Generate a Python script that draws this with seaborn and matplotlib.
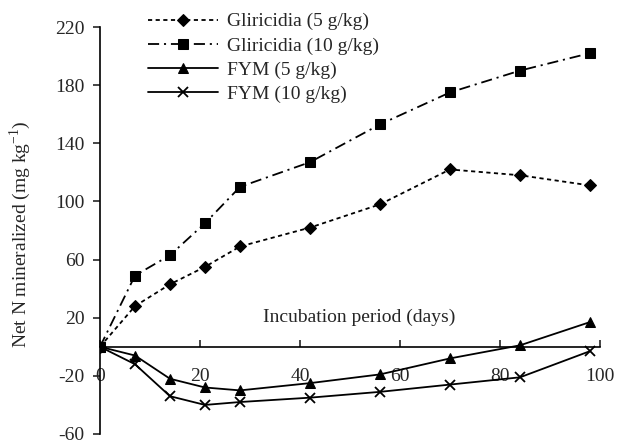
import matplotlib
matplotlib.use('Agg')
import matplotlib.pyplot as plt
import seaborn as sns

# incubation days and net N mineralized (mg/kg)
days = [0, 7, 14, 21, 28, 42, 56, 70, 84, 98]
gliricidia_5 = [0, 28, 43, 55, 69, 82, 98, 122, 118, 111]
gliricidia_10 = [0, 49, 63, 85, 110, 127, 153, 175, 190, 202]
fym_5 = [0, -6, -22, -28, -30, -25, -19, -8, 1, 17]
fym_10 = [0, -12, -34, -40, -38, -35, -31, -26, -21, -3]

series_labels = ['Gliricidia (5 g/kg)', 'Gliricidia (10 g/kg)', 'FYM (5 g/kg)', 'FYM (10 g/kg)']
x_ticks = [0, 20, 40, 60, 80, 100]
y_ticks = [-60, -20, 20, 60, 100, 140, 180, 220]

sns.set_style('ticks')
plt.rcParams['font.family'] = ['Liberation Serif', 'DejaVu Serif']
plt.rcParams['axes.unicode_minus'] = False
plt.rcParams['lines.scale_dashes'] = False

fig = plt.figure(figsize=(6.17, 4.41), dpi=100)
ax = fig.add_axes([100 / 617, 7 / 441, 500 / 617, 407 / 441])

styles = [
    dict(marker='D', markersize=6.5, linestyle=(0, (3, 2.5))),
    dict(marker='s', markersize=7, linestyle=(0, (8, 3.5, 1.5, 3.5))),
    dict(marker='^', markersize=7.5, linestyle='-'),
    dict(marker='x', markersize=7.5, linestyle='-', markeredgewidth=1.3),
]
for values, label, st in zip([gliricidia_5, gliricidia_10, fym_5, fym_10], series_labels, styles):
    sns.lineplot(x=days, y=values, ax=ax, color='black', label=label, linewidth=1.3,
                 markeredgecolor='black', legend=False, **st)

ax.set_xlim(0, 100)
ax.set_ylim(-60, 220)
ax.set_xticks(x_ticks)
ax.set_yticks(y_ticks)
ax.spines['top'].set_visible(False)
ax.spines['right'].set_visible(False)
ax.spines['bottom'].set_position(('data', 0))
for sp in ['left', 'bottom']:
    ax.spines[sp].set_linewidth(1.2)
    ax.spines[sp].set_color('black')
ax.tick_params(axis='x', direction='in', length=5, width=1.2, pad=15, labelsize=14)
ax.tick_params(axis='y', direction='out', length=5, width=1.2, pad=6, labelsize=14)

ax.set_xlabel('Incubation period (days)', fontsize=14)
ax.xaxis.set_label_coords(0.518, 80 / 280)
ax.xaxis.label.set_verticalalignment('center')
ax.set_ylabel('Net N mineralized (mg kg$^{\\mathregular{-1}}$)', fontsize=14)
ax.yaxis.set_label_coords(-0.134, 0.49)

ax.legend(loc='upper left', bbox_to_anchor=(0.096, 1.035), frameon=False, fontsize=14,
          handlelength=3.6, handletextpad=0.45, labelspacing=0.34, borderpad=0, borderaxespad=0)

fig.savefig('out.png', dpi=100)
